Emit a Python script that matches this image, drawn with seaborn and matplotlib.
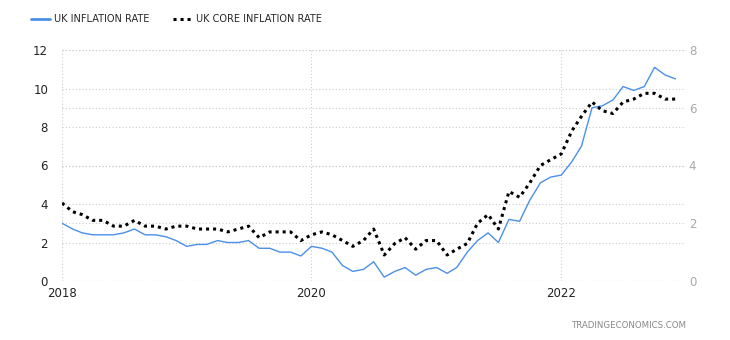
import numpy as np
import pandas as pd
import matplotlib
matplotlib.use("Agg")
import matplotlib.pyplot as plt
import seaborn as sns

months = pd.date_range("2018-01-01", "2022-12-01", freq="MS")

inflation = [
    3.0, 2.7, 2.5, 2.4, 2.4, 2.4, 2.5, 2.7, 2.4, 2.4, 2.3, 2.1,
    1.8, 1.9, 1.9, 2.1, 2.0, 2.0, 2.1, 1.7, 1.7, 1.5, 1.5, 1.3,
    1.8, 1.7, 1.5, 0.8, 0.5, 0.6, 1.0, 0.2, 0.5, 0.7, 0.3, 0.6,
    0.7, 0.4, 0.7, 1.5, 2.1, 2.5, 2.0, 3.2, 3.1, 4.2, 5.1, 5.4,
    5.5, 6.2, 7.0, 9.0, 9.1, 9.4, 10.1, 9.9, 10.1, 11.1, 10.7, 10.5,
]
core_inflation = [
    2.7, 2.4, 2.3, 2.1, 2.1, 1.9, 1.9, 2.1, 1.9, 1.9, 1.8, 1.9,
    1.9, 1.8, 1.8, 1.8, 1.7, 1.8, 1.9, 1.5, 1.7, 1.7, 1.7, 1.4,
    1.6, 1.7, 1.6, 1.4, 1.2, 1.4, 1.8, 0.9, 1.3, 1.5, 1.1, 1.4,
    1.4, 0.9, 1.1, 1.3, 2.0, 2.3, 1.8, 3.1, 2.9, 3.4, 4.0, 4.2,
    4.4, 5.2, 5.7, 6.2, 5.9, 5.8, 6.2, 6.3, 6.5, 6.5, 6.3, 6.3,
]
left_ticks = [0, 2, 4, 6, 8, 10, 12]
right_ticks = [0, 2, 4, 6, 8]
year_ticks = ["2018", "2020", "2022"]

df = pd.DataFrame({"date": months, "inflation": inflation, "core": core_inflation})

sns.set_theme(style="white")
plt.rcParams["font.family"] = ["DejaVu Sans"]

fig = plt.figure(figsize=(7.3, 3.4), dpi=100)
ax = fig.add_axes([62 / 730, 1 - 281 / 340, (686 - 62) / 730, (281 - 50) / 340])
ax2 = ax.twinx()

grid_kw = dict(color="#cccccc", linestyle=(0, (1, 2)), linewidth=0.8, zorder=0)
for v in left_ticks:
    ax.axhline(v, **grid_kw)
for v in right_ticks:
    ax.axhline(v * 12 / 8, **grid_kw)
for y in year_ticks:
    ax.axvline(pd.Timestamp(f"{y}-01-01"), **grid_kw)

sns.lineplot(data=df, x="date", y="inflation", ax=ax, color="#4a90e8",
             linewidth=1.0, legend=False, zorder=3)
sns.lineplot(data=df, x="date", y="core", ax=ax2, color="#000000",
             linewidth=2.2, linestyle=(0, (1, 1.3)), legend=False, zorder=3)

ax.set_xlim(pd.Timestamp("2018-01-01"), pd.Timestamp("2023-01-01"))
ax.set_ylim(0, 12)
ax2.set_ylim(0, 8)
ax.set_yticks(left_ticks)
ax2.set_yticks(right_ticks)
ax.set_xticks([pd.Timestamp(f"{y}-01-01") for y in year_ticks])
ax.set_xticklabels(year_ticks)
ax.set_xlabel("")
ax.set_ylabel("")
ax2.set_ylabel("")

for a in (ax, ax2):
    for s in a.spines.values():
        s.set_visible(False)
    a.grid(False)

ax.tick_params(axis="y", length=0, pad=10, labelsize=8.5, labelcolor="#222222")
ax.tick_params(axis="x", length=3, width=0.8, color="#cccccc", pad=1, labelsize=8.5,
               labelcolor="#222222")
ax2.tick_params(axis="y", length=0, pad=2, labelsize=8.5, labelcolor="#a8a8a8")

# Legend
h1 = plt.Line2D([], [], color="#4a90e8", linewidth=2)
h2 = plt.Line2D([], [], color="#000000", linewidth=2.2, linestyle=(0, (1, 1.3)))
fig.legend([h1, h2], ["UK INFLATION RATE", "UK CORE INFLATION RATE"],
           loc="center left", bbox_to_anchor=(31 / 730, 1 - 19 / 340), ncol=2,
           frameon=False, fontsize=7, handlelength=2.0, handletextpad=0.4,
           columnspacing=2.4, borderaxespad=0, borderpad=0)

fig.text(687 / 730, 1 - 326 / 340, "TRADINGECONOMICS.COM", ha="right", va="center",
         fontsize=6.2, color="#888888")

fig.savefig("out.png", dpi=100)
